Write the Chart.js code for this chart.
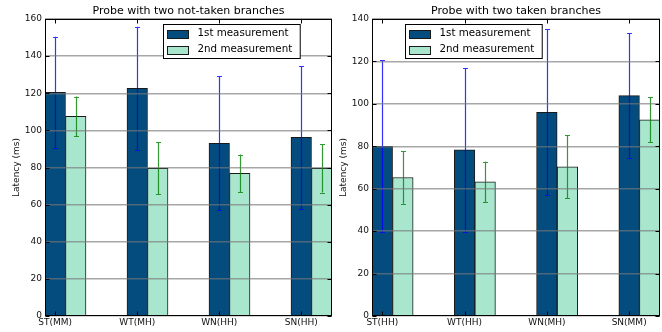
<!DOCTYPE html>
<html>
<head>
<meta charset="utf-8">
<script src="https://cdn.jsdelivr.net/npm/chart.js@4/dist/chart.umd.min.js"></script>
<style>
  html, body { margin: 0; padding: 0; background: #fff; }
  #wrap { position: relative; width: 662px; height: 332px; overflow: hidden; background: #fff; }
  canvas { position: absolute; top: 0; }
  #notTaken { left: 0; }
  #taken { left: 327px; }
</style>
</head>
<body>
<div id="wrap">
  <canvas id="notTaken" width="335" height="332"></canvas>
  <canvas id="taken" width="335" height="332"></canvas>
</div>
<script>
// ---- data: probe with two not-taken branches ----
const notTakenCategories = ['ST(MM)', 'WT(MH)', 'WN(HH)', 'SN(HH)'];
const notTakenFirst      = [120.5, 122.6, 93.0, 96.2];
const notTakenFirstErr   = [30.0, 33.2, 36.1, 38.5];
const notTakenSecond     = [107.5, 79.6, 76.8, 79.5];
const notTakenSecondErr  = [10.7, 14.0, 10.2, 13.0];
const notTakenYTicks     = [0, 20, 40, 60, 80, 100, 120, 140, 160];

// ---- data: probe with two taken branches ----
const takenCategories = ['ST(HH)', 'WT(HH)', 'WN(MH)', 'SN(MM)'];
const takenFirst      = [80.0, 78.3, 96.0, 103.9];
const takenFirstErr   = [40.5, 38.5, 39.1, 29.3];
const takenSecond     = [65.3, 63.2, 70.3, 92.5];
const takenSecondErr  = [12.4, 9.6, 14.8, 10.6];
const takenYTicks     = [0, 20, 40, 60, 80, 100, 120, 140];

const seriesLabels = ['1st measurement', '2nd measurement'];
const yAxisTitle = 'Latency (ms)';

const FIRST_FILL = '#034C7D';
const SECOND_FILL = '#A8E6CE';
const BAR_EDGE = '#1a1a1a';
const BAR_W = 0.25;          // bar width in category units

Chart.defaults.font.family = "'DejaVu Sans', sans-serif";
Chart.defaults.color = '#111';

// vertical error bars with caps, taken from each dataset's "errors" array
const errorBars = {
  id: 'errorBars',
  afterDatasetsDraw(chart) {
    const ctx = chart.ctx;
    const y = chart.scales.y;
    chart.data.datasets.forEach((ds, di) => {
      const meta = chart.getDatasetMeta(di);
      if (!ds.errors) return;
      ctx.save();
      ctx.strokeStyle = ds.errorColor;
      ctx.lineWidth = 1.2;
      meta.data.forEach((bar, i) => {
        const v = ds.data[i].y, e = ds.errors[i];
        const x = Math.round(bar.x) + 0.5;
        const yTop = y.getPixelForValue(v + e);
        const yBot = y.getPixelForValue(v - e);
        ctx.beginPath();
        ctx.moveTo(x, yTop); ctx.lineTo(x, yBot);
        ctx.moveTo(x - 2.5, Math.round(yTop) + 0.5); ctx.lineTo(x + 2.5, Math.round(yTop) + 0.5);
        ctx.moveTo(x - 2.5, Math.round(yBot) + 0.5); ctx.lineTo(x + 2.5, Math.round(yBot) + 0.5);
        ctx.stroke();
      });
      ctx.restore();
    });
  }
};

// axes frame with inward tick marks, plus the boxed legend inside the plot
const frameAndLegend = {
  id: 'frameAndLegend',
  afterDraw(chart, args, opts) {
    const ctx = chart.ctx;
    const a = chart.chartArea;
    const xs = chart.scales.x, ys = chart.scales.y;
    ctx.save();
    ctx.strokeStyle = '#000';
    ctx.lineWidth = 1;
    const L = Math.round(a.left) + 0.5, R = Math.round(a.right) - 0.5;
    const T = Math.round(a.top) + 0.5, B = Math.round(a.bottom) - 0.5;
    ctx.strokeRect(L, T, R - L, B - T);
    ctx.beginPath();
    ys.ticks.forEach(t => {
      const py = Math.round(ys.getPixelForValue(t.value)) + 0.5;
      ctx.moveTo(L, py); ctx.lineTo(L + 4, py);
      ctx.moveTo(R, py); ctx.lineTo(R - 4, py);
    });
    xs.ticks.forEach(t => {
      const px = Math.round(xs.getPixelForValue(t.value)) + 0.5;
      ctx.moveTo(px, T); ctx.lineTo(px, T + 4);
      ctx.moveTo(px, B); ctx.lineTo(px, B - 4);
    });
    ctx.stroke();

    // legend
    const fontSize = 10.3;
    ctx.font = fontSize + "px 'DejaVu Sans', sans-serif";
    const items = chart.data.datasets;
    const textW = Math.max(...items.map(d => ctx.measureText(d.label).width));
    const pad = 4, patchW = 21, patchH = 8, gap = 9, rowH = 16;
    const boxW = pad + patchW + gap + textW + 8;
    const boxH = 34;
    const x0 = Math.round(a.left + opts.offsetX) + 0.5;
    const y0 = Math.round(a.top + opts.offsetY) + 0.5;
    ctx.fillStyle = '#fff';
    ctx.fillRect(x0, y0, boxW, boxH);
    ctx.strokeStyle = '#000';
    ctx.strokeRect(x0, y0, boxW, boxH);
    items.forEach((d, i) => {
      const cy = y0 + 9 + i * rowH;
      ctx.fillStyle = d.backgroundColor;
      ctx.fillRect(x0 + pad, Math.round(cy - patchH / 2), patchW, patchH);
      ctx.strokeStyle = d.borderColor;
      ctx.strokeRect(x0 + pad, Math.round(cy - patchH / 2) + 0.5, patchW, patchH);
      ctx.fillStyle = '#000';
      ctx.textBaseline = 'middle';
      ctx.textAlign = 'left';
      ctx.fillText(d.label, x0 + pad + patchW + gap, cy);
    });
    ctx.restore();
  }
};

function buildChart(canvasId, spec) {
  const n = spec.categories.length;
  return new Chart(document.getElementById(canvasId), {
    type: 'bar',
    data: {
      datasets: [
        {
          label: seriesLabels[0],
          data: spec.categories.map((c, i) => ({ x: i, y: spec.first[i] })),
          errors: spec.firstErr,
          errorColor: 'rgba(0, 0, 255, 0.8)',
          backgroundColor: FIRST_FILL,
          borderColor: BAR_EDGE,
          borderWidth: 1,
          grouped: false,
          barPercentage: 1,
          categoryPercentage: 1
        },
        {
          label: seriesLabels[1],
          data: spec.categories.map((c, i) => ({ x: i + BAR_W, y: spec.second[i] })),
          errors: spec.secondErr,
          errorColor: 'rgba(0, 128, 0, 0.8)',
          backgroundColor: SECOND_FILL,
          borderColor: BAR_EDGE,
          borderWidth: 1,
          grouped: false,
          barPercentage: 1,
          categoryPercentage: 1
        }
      ]
    },
    options: {
      responsive: false,
      animation: false,
      devicePixelRatio: 1,
      layout: { padding: { left: 0, top: 0, bottom: 0, right: spec.padRight } },
      plugins: {
        legend: { display: false },
        tooltip: { enabled: false },
        title: {
          display: true,
          fullSize: false,
          text: spec.title,
          color: '#000',
          font: { size: 11, weight: 'normal' },
          padding: { top: 5, bottom: 0.8 }
        },
        frameAndLegend: { offsetX: spec.legendX, offsetY: 5 }
      },
      scales: {
        x: {
          type: 'linear',
          offset: false,
          bounds: 'data',
          min: -BAR_W / 2,
          max: (n - 1) + BAR_W * 1.5,
          afterBuildTicks: s => { s.ticks = spec.categories.map((c, i) => ({ value: i })); },
          ticks: {
            callback: (v, i) => spec.categories[i],
            autoSkip: false,
            maxRotation: 0,
            padding: 1,
            font: { size: 9 },
            color: '#111'
          },
          grid: { display: false, drawTicks: false, offset: false },
          border: { display: false },
          afterFit: s => { s.height = 16; }
        },
        y: {
          bounds: 'data',
          min: spec.yTicks[0],
          max: spec.yTicks[spec.yTicks.length - 1],
          afterBuildTicks: s => { s.ticks = spec.yTicks.map(v => ({ value: v })); },
          ticks: { padding: 3, font: { size: 9 }, color: '#111' },
          // grid lines sit on top of the bars
          grid: { z: 1, color: 'rgba(120,120,120,0.65)', lineWidth: 1.5, drawTicks: false },
          border: { display: false },
          title: {
            display: true,
            text: yAxisTitle,
            color: '#111',
            font: { size: 9 },
            padding: { top: 11.5, bottom: 0 }
          },
          afterFit: s => { s.width = 45; }
        }
      }
    },
    plugins: [errorBars, frameAndLegend]
  });
}

buildChart('notTaken', {
  title: 'Probe with two not-taken branches',
  categories: notTakenCategories,
  first: notTakenFirst, firstErr: notTakenFirstErr,
  second: notTakenSecond, secondErr: notTakenSecondErr,
  yTicks: notTakenYTicks,
  legendX: 118,
  padRight: 3
});

buildChart('taken', {
  title: 'Probe with two taken branches',
  categories: takenCategories,
  first: takenFirst, firstErr: takenFirstErr,
  second: takenSecond, secondErr: takenSecondErr,
  yTicks: takenYTicks,
  legendX: 33,
  padRight: 2
});
</script>
</body>
</html>
